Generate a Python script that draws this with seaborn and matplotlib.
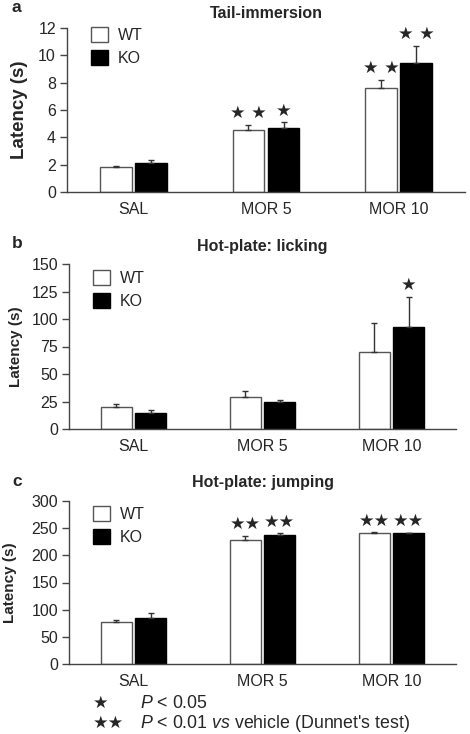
import pandas as pd
import matplotlib
matplotlib.use("Agg")
import matplotlib.pyplot as plt
import seaborn as sns

doses = ["SAL", "MOR 5", "MOR 10"]
genotypes = ["WT", "KO"]

# tail immersion
tail_wt = [1.82, 4.54, 7.62]
tail_wt_err = [0.05, 0.36, 0.60]
tail_ko = [2.11, 4.71, 9.42]
tail_ko_err = [0.20, 0.39, 1.28]
tail_wt_stars = ["", "\u2605 \u2605", "\u2605 \u2605"]
tail_ko_stars = ["", "\u2605", "\u2605 \u2605"]

# hot-plate licking
lick_wt = [19.7, 29.4, 70.3]
lick_wt_err = [3.3, 5.4, 26.4]
lick_ko = [14.2, 24.2, 93.0]
lick_ko_err = [3.4, 2.5, 27.0]
lick_wt_stars = ["", "", ""]
lick_ko_stars = ["", "", "\u2605"]

# hot-plate jumping
jump_wt = [76.6, 228.0, 241.0]
jump_wt_err = [4.3, 8.0, 1.2]
jump_ko = [84.0, 236.6, 241.0]
jump_ko_err = [9.0, 3.7, 0.5]
jump_wt_stars = ["", "\u2605\u2605", "\u2605\u2605"]
jump_ko_stars = ["", "\u2605\u2605", "\u2605\u2605"]

sns.set_style("ticks")
plt.rcParams["font.family"] = ["Liberation Sans", "DejaVu Sans"]
plt.rcParams["mathtext.fontset"] = "custom"
plt.rcParams["mathtext.rm"] = "Liberation Sans"
plt.rcParams["mathtext.it"] = "Liberation Sans:italic"

W, H = 470, 734
fig = plt.figure(figsize=(W / 100, H / 100), dpi=100)

EDGE = "#555555"


def make_df(wt, ko):
    rows = []
    for g, vals in zip(genotypes, [wt, ko]):
        for d, v in zip(doses, vals):
            rows.append({"dose": d, "genotype": g, "latency": v})
    return pd.DataFrame(rows)


def draw_panel(rect, letter, title, wt, wt_err, ko, ko_err, wt_st, ko_st,
               ymax, ystep, leg_top, label_x, label_size, title_pad):
    l, t, r, b = rect
    ax = fig.add_axes([l / W, 1 - b / H, (r - l) / W, (b - t) / H])
    df = make_df(wt, ko)
    sns.barplot(data=df, x="dose", y="latency", hue="genotype",
                palette=["white", "black"], errorbar=None,
                width=0.53, gap=0.1, linewidth=1, ax=ax)
    errs = [wt_err, ko_err]
    stars = [wt_st, ko_st]
    bar_groups = list(ax.containers)
    for k, cont in enumerate(bar_groups):
        for i, bar in enumerate(cont.patches):
            bar.set_edgecolor(EDGE if k == 0 else "black")
            xc = bar.get_x() + bar.get_width() / 2
            h = bar.get_height()
            ax.errorbar(xc, h, yerr=[[0], [errs[k][i]]], fmt="none",
                        ecolor="#333333", elinewidth=1, capsize=2.5,
                        capthick=1, zorder=1)
            if stars[k][i]:
                ax.annotate(stars[k][i], (xc, h + errs[k][i]),
                            xytext=(0, 2), textcoords="offset points",
                            ha="center", va="bottom", fontsize=12.5,
                            family=["DejaVu Sans"])
    ax.set_xlim(-0.5, 2.5)
    ax.set_ylim(0, ymax)
    ax.set_yticks(range(0, ymax + 1, ystep))
    ax.set_xlabel("")
    ax.set_ylabel("Latency (s)", fontsize=label_size, fontweight="bold")
    ax.yaxis.set_label_coords(label_x, 0.5)
    ax.tick_params(axis="y", length=5, width=1, color="#444444",
                   labelsize=11.5, pad=3)
    ax.tick_params(axis="x", length=0, labelsize=11.5, pad=7)
    for s in ["top", "right"]:
        ax.spines[s].set_visible(False)
    for s in ["left", "bottom"]:
        ax.spines[s].set_color("#444444")
        ax.spines[s].set_linewidth(1)
    leg = ax.legend(loc="upper left", frameon=False, fontsize=11.5,
                    bbox_to_anchor=(24 / (r - l), 1 - leg_top / (b - t)),
                    borderpad=0, borderaxespad=0, handlelength=1.05,
                    handleheight=1.05, handletextpad=0.65,
                    labelspacing=0.45)
    for k, hnd in enumerate(leg.legend_handles):
        hnd.set_edgecolor(EDGE if k == 0 else "black")
        hnd.set_linewidth(1)
    ax.set_title(title, fontsize=11.5, fontweight="bold", pad=title_pad)
    fig.text(12 / W, 1 - (t - 20) / H, letter, fontsize=12.5,
             fontweight="bold", ha="left", va="center")
    return ax


draw_panel((67, 28, 465, 192), "a", "Tail-immersion",
           tail_wt, tail_wt_err, tail_ko, tail_ko_err,
           tail_wt_stars, tail_ko_stars, 12, 2, -1, -0.098, 13.5, 7)
draw_panel((69, 264, 456, 429), "b", "Hot-plate: licking",
           lick_wt, lick_wt_err, lick_ko, lick_ko_err,
           lick_wt_stars, lick_ko_stars, 150, 25, 6, -0.119, 11, 9)
draw_panel((69, 501, 456, 664), "c", "Hot-plate: jumping",
           jump_wt, jump_wt_err, jump_ko, jump_ko_err,
           jump_wt_stars, jump_ko_stars, 300, 50, 5, -0.134, 11, 10)

# footnote
fig.text(101 / W, 1 - 703 / H, "\u2605", family=["DejaVu Sans"],
         fontsize=12.5, ha="center", va="center")
fig.text(140 / W, 1 - 703 / H, r"$\mathit{P}$ < 0.05", fontsize=12.8,
         ha="left", va="center")
fig.text(108 / W, 1 - 723 / H, "\u2605\u2605", family=["DejaVu Sans"],
         fontsize=12.5, ha="center", va="center")
fig.text(140 / W, 1 - 723 / H,
         r"$\mathit{P}$ < 0.01 $\mathit{vs}$ vehicle (Dunnet's test)",
         fontsize=12.8, ha="left", va="center")

fig.savefig("out.png", dpi=100)
